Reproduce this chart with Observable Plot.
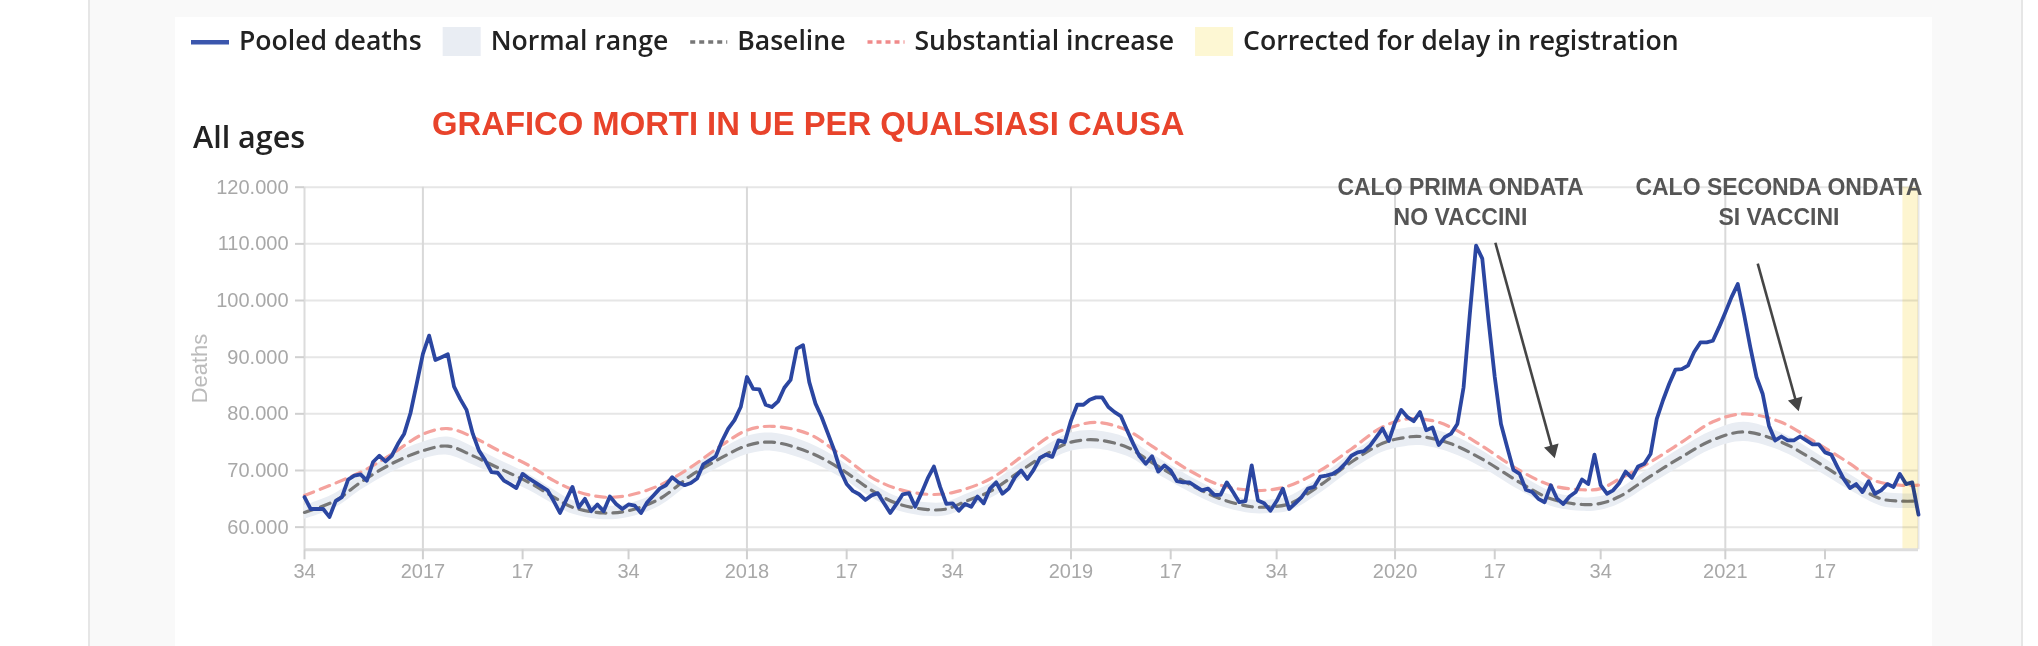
<!DOCTYPE html>
<html>
<head>
<meta charset="utf-8">
<script src="https://cdn.jsdelivr.net/npm/d3@7"></script>
<script src="https://cdn.jsdelivr.net/npm/@observablehq/plot@0.6"></script>
<style>
  html, body { margin: 0; padding: 0; background: #fff; }
  #page { position: relative; width: 2038px; height: 646px; overflow: hidden; background: #fff; }
  .abs { position: absolute; }
</style>
</head>
<body>
<div id="page">
  <div class="abs" style="left:88px;top:0;width:1931px;height:646px;background:#f9f9f9;border-left:2px solid #e6e6e6;border-right:2px solid #e6e6e6;"></div>
  <div class="abs" style="left:175px;top:17px;width:1757px;height:629px;background:#fff;"></div>
  <div class="abs" id="chart" style="left:0;top:0;"></div>
  <div class="abs" id="overlay" style="left:0;top:0;"></div>
</div>
<script>
// ---- DATA (weekly, from ISO week 34 of 2016; deaths in thousands) ----
const deaths = [
  65.3,63.2,63.2,63.2,61.8,64.6,65.3,68.4,69.1,69.3,
  68.2,71.5,72.6,71.6,72.6,74.7,76.5,80.1,85.3,90.6,
  93.8,89.5,90.0,90.5,84.8,82.6,80.7,76.5,73.5,71.8,
  69.7,69.6,68.2,67.6,66.9,69.4,68.6,67.9,67.2,66.5,
  64.6,62.5,64.8,67.1,63.5,65.0,62.8,64.0,62.8,65.4,
  64.1,63.2,64.0,
  63.8,62.5,64.4,65.6,66.8,67.4,68.8,
  67.9,67.4,67.8,68.6,71.1,71.8,72.5,75.2,77.4,78.9,
  81.2,86.5,84.4,84.3,81.6,81.2,82.2,84.6,86.0,91.5,
  92.1,85.6,81.8,79.4,76.5,73.6,70.0,67.6,66.4,65.8,
  64.8,65.6,66.0,64.2,62.5,64.1,65.8,66.0,63.6,66.0,
  68.6,70.7,67.1,64.1,64.2,62.9,
  64.1,63.6,65.4,64.2,
  66.8,67.9,65.9,66.8,68.8,70.0,68.5,70.1,72.2,72.8,
  72.4,75.3,75.0,78.8,81.6,81.6,82.5,82.9,82.9,81.2,
  80.3,79.6,77.1,74.7,72.5,71.2,72.5,69.8,70.9,70.0,
  68.1,67.9,67.9,67.2,66.5,66.8,65.7,65.7,67.9,66.2,
  64.4,64.6,70.9,64.7,64.2,62.9,64.6,66.8,63.2,
  64.2,
  65.3,66.8,67.1,68.9,69.1,69.4,70.1,71.2,72.6,73.2,
  73.4,74.4,75.9,77.4,75.2,78.5,80.7,79.4,78.7,80.3,
  77.1,77.6,74.5,75.9,76.5,78.2,84.7,97.6,109.7,107.4,
  96.5,86.5,78.2,74.1,70.1,69.4,66.6,66.2,65.0,64.4,
  67.4,65.0,64.1,65.4,66.2,68.4,67.6,72.8,67.4,65.9,
  66.5,
  67.8,69.8,68.7,70.7,71.2,72.9,79.1,82.4,85.3,
  87.8,87.9,88.5,90.9,92.6,92.6,92.9,95.3,97.9,100.6,
  102.9,97.6,91.8,86.5,83.5,77.9,75.3,76.0,75.3,75.3,
  76.0,75.3,74.6,74.6,73.2,72.8,70.6,68.5,66.9,67.6,
  66.2,68.1,65.9,66.5,67.6,67.1,69.4,67.6,67.9,62.2
];

const baselineWeek = [0,5,9,14,19,23,27,31,36,40,43,48,52,57,62,67,71,75,81,86,91,95,100,103,106,110,115,120,123,127,132,136,142,147,152,155,158,163,168,173,176,179,184,189,195,200,205,208,211,216,221,226,231,237,242,248,253,256,259];
const baselineValue = [62.6,64.7,67.9,71.2,73.5,74.3,72.6,70.5,67.9,65.3,63.5,62.5,62.9,65.0,69.1,72.3,74.4,75.0,73.2,70.3,66.5,64.2,63.1,63.2,64.5,66.3,70.0,73.5,75.0,75.4,74.1,71.4,67.6,65.0,63.6,63.6,64.1,67.4,71.5,74.8,75.7,76.0,74.7,72.0,67.9,65.0,64.0,64.2,65.4,69.0,72.4,75.4,76.8,75.0,72.0,67.9,65.0,64.6,64.6];
const normalLow  = [61.4,63.4,66.5,69.7,72.0,72.7,71.0,69.0,66.5,64.0,62.3,61.3,61.7,63.7,67.7,70.8,72.8,73.4,71.6,68.8,65.2,63.0,61.9,62.0,63.3,65.0,68.6,72.0,73.4,73.8,72.5,69.9,66.2,63.7,62.4,62.4,62.8,66.0,70.0,73.2,74.1,74.4,73.1,70.5,66.5,63.7,62.8,63.0,64.1,67.5,70.8,73.8,75.1,73.4,70.5,66.5,63.7,63.3,63.3];
const normalHigh = [63.8,66.0,69.3,72.7,75.0,75.9,74.2,72.0,69.3,66.6,64.7,63.7,64.1,66.3,70.5,73.8,76.0,76.6,74.8,71.8,67.8,65.4,64.3,64.4,65.7,67.6,71.4,75.0,76.6,77.0,75.7,72.9,69.0,66.3,64.8,64.8,65.4,68.8,73.0,76.4,77.3,77.6,76.3,73.5,69.3,66.3,65.2,65.4,66.7,70.5,74.0,77.0,78.5,76.6,73.5,69.3,66.3,65.9,65.9];

const substantialWeek = [0,9,14,19,23,27,31,36,40,44,48,52,57,62,67,71,75,81,86,91,95,100,104,110,115,120,123,127,132,136,142,147,152,155,158,163,168,173,177,181,184,189,195,200,205,208,211,216,221,226,231,237,242,248,252,256,259];
const substantialValue = [65.6,69.7,72.9,76.4,77.4,75.9,73.6,70.9,68.2,66.2,65.3,65.6,67.4,70.6,74.5,77.1,77.8,76.4,72.8,68.8,66.8,65.8,66.1,68.5,72.4,76.3,77.6,78.5,77.1,74.3,70.0,67.4,66.5,66.6,67.3,70.0,73.8,77.7,79.1,78.8,77.6,74.3,70.0,67.4,66.6,66.8,68.5,71.5,75.0,78.6,80.0,78.5,75.3,71.2,68.2,67.4,67.4];

const correctedFrom = 256.5, correctedTo = 259;

const xTicks = [0,19,35,52,71,87,104,123,139,156,175,191,208,228,244];
const xTickLabels = ["34","2017","17","34","2018","17","34","2019","17","34","2020","17","34","2021","17"];
const yearTicks = [19,71,123,175,228];
const yTicks = [60,70,80,90,100,110,120];

const legendLabels = ["Pooled deaths","Normal range","Baseline","Substantial increase","Corrected for delay in registration"];
const subtitle = "All ages";
const title = "GRAFICO MORTI IN UE PER QUALSIASI CAUSA";

const annoText = ["CALO PRIMA ONDATA","NO VACCINI","CALO SECONDA ONDATA","SI VACCINI"];
const annoWeek = [185.5,185.5,236.6,236.6];
const annoValue = [118.54,113.24,118.54,113.24];
const arrowFromWeek = [191.1,233.2], arrowFromValue = [110.2,106.5];
const arrowToWeek = [200.26,239.4], arrowToValue = [73.65,81.95];
const arrowAngle = [164.6,164.4];

// ---- build ----
const fmt = d3.formatLocale({decimal: ",", thousands: ".", grouping: [3], currency: ["", ""]}).format(",d");
const deathRows = deaths.map((v, i) => ({week: i, value: v}));
const baseRows = baselineWeek.map((w, k) => ({week: w, value: baselineValue[k], lo: normalLow[k], hi: normalHigh[k]}));
const subRows = substantialWeek.map((w, k) => ({week: w, value: substantialValue[k]}));
const annoRows = annoText.map((t, k) => ({text: t, week: annoWeek[k], value: annoValue[k]}));
const arrowRows = arrowFromWeek.map((w, k) => ({x1: w, y1: arrowFromValue[k], x2: arrowToWeek[k], y2: arrowToValue[k], angle: arrowAngle[k]}));

const chart = Plot.plot({
  width: 2038,
  height: 646,
  marginTop: 186.7,
  marginBottom: 96.7,
  marginLeft: 304,
  marginRight: 120,
  style: {background: "transparent", fontFamily: "'Liberation Sans', Arial, sans-serif"},
  x: {domain: [0, 259]},
  y: {domain: [56, 120]},
  marks: [
    Plot.ruleY(yTicks, {stroke: "#e6e6e6", strokeWidth: 2}),
    Plot.ruleX(yearTicks, {stroke: "#d9d9d9", strokeWidth: 2}),
    Plot.ruleX([0], {stroke: "#dcdcdc", strokeWidth: 2}),
    Plot.ruleX([259], {stroke: "#e6e6e6", strokeWidth: 2}),
    Plot.areaY(baseRows, {x: "week", y1: "lo", y2: "hi", fill: "#e9edf3", curve: "catmull-rom"}),
    Plot.line(baseRows, {x: "week", y: "value", stroke: "#777", strokeWidth: 3.2, strokeDasharray: "10,7", curve: "catmull-rom"}),
    Plot.line(subRows, {x: "week", y: "value", stroke: "#f4a29d", strokeWidth: 3.2, strokeDasharray: "10,7", curve: "catmull-rom"}),
    Plot.line(deathRows, {x: "week", y: "value", stroke: "#2b46a1", strokeWidth: 3.8, strokeLinejoin: "round"}),
    Plot.rect([{a: correctedFrom, b: correctedTo}], {x1: "a", x2: "b", fill: "#fdf5d0", mixBlendMode: "multiply"}),
    Plot.ruleY([56], {stroke: "#dddddd", strokeWidth: 3}),
    Plot.axisY(yTicks, {anchor: "left", tickSize: 9, tickPadding: 7, fontSize: 20, fill: "#a8a8a8", stroke: "#d0d0d0", strokeWidth: 2, tickFormat: d => fmt(d * 1000), label: null}),
    Plot.axisX(xTicks, {anchor: "bottom", tickSize: 10, tickPadding: 4, fontSize: 20, fill: "#a8a8a8", stroke: "#d0d0d0", strokeWidth: 2, tickFormat: d => xTickLabels[xTicks.indexOf(d)], label: null}),
    Plot.text(["Deaths"], {frameAnchor: "left", dx: -105, rotate: -90, textAnchor: "middle", lineAnchor: "middle", fontSize: 22, fill: "#bbbbbb"}),
    Plot.text(annoRows, {x: "week", y: "value", text: "text", textAnchor: "middle", lineAnchor: "bottom", fontSize: 23, fontWeight: "bold", fill: "#555"}),
    Plot.link(arrowRows, {x1: "x1", y1: "y1", x2: "x2", y2: "y2", stroke: "#454545", strokeWidth: 2.6}),
    Plot.dot(arrowRows, {x: "x2", y: "y2", symbol: "triangle", r: 5.6, fill: "#454545", stroke: "none", rotate: "angle"})
  ]
});
document.getElementById("chart").appendChild(chart);

// ---- legend / titles overlay ----
const svg = d3.select("#overlay").append("svg").attr("width", 2038).attr("height", 160);
const lg = svg.append("g").attr("font-family", "'Open Sans', sans-serif").attr("font-weight", 600).attr("font-size", 26.6).attr("fill", "#222");
let x = 191;
legendLabels.forEach((lab, k) => {
  if (k === 0) lg.append("rect").attr("x", x).attr("y", 40).attr("width", 38).attr("height", 4.5).attr("fill", "#3b56ad");
  if (k === 1) lg.append("rect").attr("x", x).attr("y", 27).attr("width", 38).attr("height", 29).attr("fill", "#e9edf3");
  if (k === 2) lg.append("line").attr("x1", x + 1).attr("x2", x + 38).attr("y1", 42).attr("y2", 42).attr("stroke", "#777").attr("stroke-width", 3.5).attr("stroke-dasharray", "5,4");
  if (k === 3) lg.append("line").attr("x1", x + 1).attr("x2", x + 38).attr("y1", 42).attr("y2", 42).attr("stroke", "#f08a8a").attr("stroke-width", 3.5).attr("stroke-dasharray", "5,4");
  if (k === 4) lg.append("rect").attr("x", x).attr("y", 27).attr("width", 38).attr("height", 29).attr("fill", "#fdf7d3");
  const t = lg.append("text").attr("x", x + 48).attr("y", 50).text(lab);
  x = x + 48 + t.node().getComputedTextLength() + 21;
});
svg.append("text").attr("x", 193).attr("y", 148).attr("font-family", "'Open Sans', sans-serif").attr("font-weight", 600).attr("font-size", 30.5).attr("fill", "#222").text(subtitle);
svg.append("text").attr("x", 432).attr("y", 135).attr("font-family", "'Liberation Sans', Arial, sans-serif").attr("font-weight", "bold").attr("font-size", 32.8).attr("fill", "#e8432b").text(title);
</script>
</body>
</html>
